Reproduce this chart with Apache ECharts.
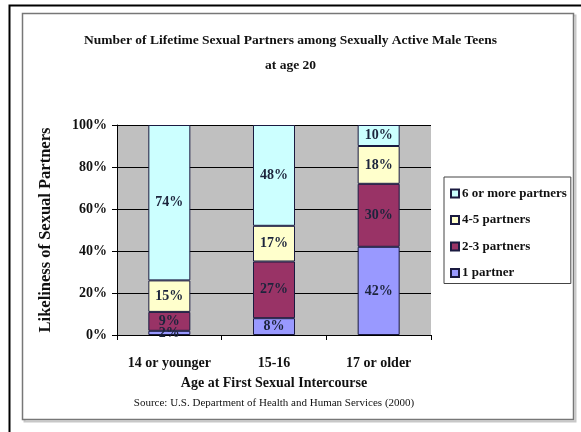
<!DOCTYPE html>
<html>
<head>
<meta charset="utf-8">
<script src="https://cdn.jsdelivr.net/npm/echarts@6/dist/echarts.min.js"></script>
<style>
html,body{margin:0;padding:0;background:#fff;}
#chart{width:581px;height:432px;}
</style>
</head>
<body>
<div id="chart"></div>
<script>
const categories = ['14 or younger', '15-16', '17 or older'];
const onePartner = [2, 8, 42];
const twoThree = [9, 27, 30];
const fourFive = [15, 17, 18];
const sixPlus = [74, 48, 10];
const yTicks = [0, 20, 40, 60, 80, 100];

const serif = '"Liberation Serif", "Times New Roman", serif';
const labelStyle = {
  show: true, position: 'inside', formatter: '{c}%',
  fontFamily: serif, fontWeight: 'bold', fontSize: 14, color: '#1c243c'
};
function mk(name, data, color) {
  return {
    name: name, type: 'bar', stack: 'total', data: data, barWidth: 42,
    itemStyle: { color: color, borderColor: '#1a1a40', borderWidth: 1 },
    label: labelStyle
  };
}
const chart = echarts.init(document.getElementById('chart'), null, { renderer: 'canvas' });
chart.setOption({
  animation: false,
  backgroundColor: '#fff',
  title: [
    { text: 'Number of Lifetime Sexual Partners among Sexually Active Male Teens', left: 'center', top: 34, padding: 0,
      textStyle: { fontFamily: serif, fontWeight: 'bold', fontSize: 13.5, color: '#111' } },
    { text: 'at age 20', left: 'center', top: 59, padding: 0,
      textStyle: { fontFamily: serif, fontWeight: 'bold', fontSize: 13.5, color: '#111' } },
    { text: 'Source: U.S. Department of Health and Human Services (2000)', left: 274, textAlign: 'center', top: 398, padding: 0,
      textStyle: { fontFamily: serif, fontWeight: 'normal', fontSize: 11, color: '#111' } }
  ],
  graphic: [
    { type: 'polyline', shape: { points: [[9.5, 432], [9.5, 5.5], [581, 5.5]] }, style: { stroke: '#000', lineWidth: 2, fill: null }, z: 0 },
    { type: 'rect', shape: { x: 24.5, y: 15.5, width: 551, height: 406 }, style: { stroke: '#c8c8c8', lineWidth: 2, fill: null }, z: -2 },
    { type: 'rect', shape: { x: 22.5, y: 13.5, width: 551, height: 406 }, style: { stroke: '#777', lineWidth: 1.5, fill: '#fff' }, z: -1 }
  ],
  grid: { left: 117, top: 125, width: 314, height: 210, show: true, backgroundColor: '#c0c0c0', borderWidth: 0 },
  legend: {
    data: ['6 or more partners', '4-5 partners', '2-3 partners', '1 partner'],
    orient: 'vertical', left: 444, top: 177,
    itemWidth: 8, itemHeight: 8, itemGap: 13.5,
    padding: [10, 4, 4, 6], backgroundColor: '#fff', borderColor: '#444', borderWidth: 1,
    textStyle: { fontFamily: serif, fontWeight: 'bold', fontSize: 13, color: '#111', padding: [0, 0, 0, -2] },
    icon: 'rect'
  },
  xAxis: {
    type: 'category', data: categories,
    name: 'Age at First Sexual Intercourse', nameLocation: 'middle', nameGap: 41,
    nameTextStyle: { fontFamily: serif, fontWeight: 'bold', fontSize: 14, color: '#111' },
    axisLine: { lineStyle: { color: '#000', width: 1 } },
    axisTick: { show: true, length: 5, lineStyle: { color: '#000' } },
    axisLabel: { interval: 0, fontFamily: serif, fontWeight: 'bold', fontSize: 14, color: '#111', margin: 21 }
  },
  yAxis: {
    type: 'value', min: yTicks[0], max: yTicks[yTicks.length - 1], interval: 20,
    name: 'Likeliness of Sexual Partners', nameLocation: 'middle', nameGap: 63,
    nameTextStyle: { fontFamily: serif, fontWeight: 'bold', fontSize: 16.5, color: '#111' },
    axisLine: { show: true, lineStyle: { color: '#000', width: 1 } },
    axisTick: { show: true, length: 5, lineStyle: { color: '#000' } },
    splitLine: { show: true, lineStyle: { color: '#000', width: 1 } },
    axisLabel: { formatter: '{value}%', fontFamily: serif, fontWeight: 'bold', fontSize: 14, color: '#111', margin: 10 }
  },
  series: [
    mk('1 partner', onePartner, '#9999ff'),
    mk('2-3 partners', twoThree, '#993366'),
    mk('4-5 partners', fourFive, '#ffffcc'),
    mk('6 or more partners', sixPlus, '#ccffff')
  ]
});
</script>
</body>
</html>
